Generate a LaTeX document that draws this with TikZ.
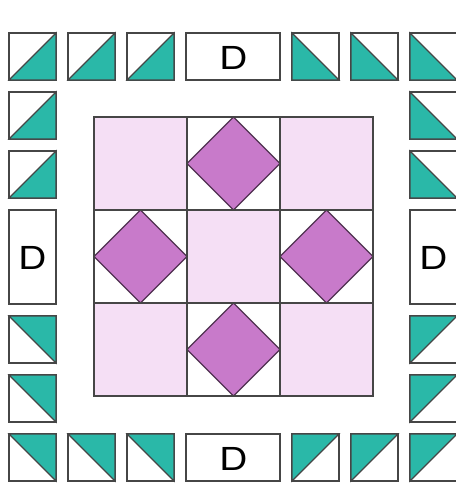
\documentclass[tikz,border=0pt]{standalone}
\usepackage{fontspec}
\usepackage{graphicx}
\setsansfont{TeX Gyre Heros}
\definecolor{quiltteal}{RGB}{42,184,168}
\definecolor{quiltpink}{RGB}{245,223,245}
\definecolor{quiltplum}{RGB}{200,122,202}
\definecolor{quiltline}{RGB}{70,70,70}

\begin{document}
\begin{tikzpicture}[x=0.02cm, y=-0.02cm,
  patch/.style={draw=quiltline, line width=0.7pt, fill=white},
  hst/.style={draw=quiltline, line width=0.7pt, fill=quiltteal},
  block/.style={fill=quiltpink},
  seam/.style={draw=quiltline, line width=0.7pt},
  gem/.style={draw=quiltplum!40!black, line width=0.7pt, fill=quiltplum},
  letter/.style={font=\sffamily\fontsize{18}{18}\selectfont}]
  \useasboundingbox (0,0) rectangle (456,487);
  % border squares, top row
  \draw[patch] (9,33) rectangle +(47,47);
  \draw[patch] (68,33) rectangle +(47,47);
  \draw[patch] (127,33) rectangle +(47,47);
  \draw[patch] (292,33) rectangle +(47,47);
  \draw[patch] (351,33) rectangle +(47,47);
  \draw[patch] (410,33) rectangle +(47,47);
  % left and right columns
  \draw[patch] (9,92) rectangle +(47,47);
  \draw[patch] (9,151) rectangle +(47,47);
  \draw[patch] (9,316) rectangle +(47,47);
  \draw[patch] (9,375) rectangle +(47,47);
  \draw[patch] (410,92) rectangle +(47,47);
  \draw[patch] (410,151) rectangle +(47,47);
  \draw[patch] (410,316) rectangle +(47,47);
  \draw[patch] (410,375) rectangle +(47,47);
  % bottom row
  \draw[patch] (9,434) rectangle +(47,47);
  \draw[patch] (68,434) rectangle +(47,47);
  \draw[patch] (127,434) rectangle +(47,47);
  \draw[patch] (292,434) rectangle +(47,47);
  \draw[patch] (351,434) rectangle +(47,47);
  \draw[patch] (410,434) rectangle +(47,47);

  % teal halves, upper left corner
  \draw[hst] (9,80) -- +(47,0) -- +(47,-47) -- cycle;
  \draw[hst] (68,80) -- +(47,0) -- +(47,-47) -- cycle;
  \draw[hst] (127,80) -- +(47,0) -- +(47,-47) -- cycle;
  \draw[hst] (9,139) -- +(47,0) -- +(47,-47) -- cycle;
  \draw[hst] (9,198) -- +(47,0) -- +(47,-47) -- cycle;
  % upper right corner
  \draw[hst] (292,33) -- +(0,47) -- +(47,47) -- cycle;
  \draw[hst] (351,33) -- +(0,47) -- +(47,47) -- cycle;
  \draw[hst] (410,33) -- +(0,47) -- +(47,47) -- cycle;
  \draw[hst] (410,92) -- +(0,47) -- +(47,47) -- cycle;
  \draw[hst] (410,151) -- +(0,47) -- +(47,47) -- cycle;
  % lower left corner
  \draw[hst] (9,316) -- +(47,0) -- +(47,47) -- cycle;
  \draw[hst] (9,375) -- +(47,0) -- +(47,47) -- cycle;
  \draw[hst] (9,434) -- +(47,0) -- +(47,47) -- cycle;
  \draw[hst] (68,434) -- +(47,0) -- +(47,47) -- cycle;
  \draw[hst] (127,434) -- +(47,0) -- +(47,47) -- cycle;
  % lower right corner
  \draw[hst] (410,316) -- +(47,0) -- +(0,47) -- cycle;
  \draw[hst] (410,375) -- +(47,0) -- +(0,47) -- cycle;
  \draw[hst] (410,434) -- +(47,0) -- +(0,47) -- cycle;
  \draw[hst] (351,434) -- +(47,0) -- +(0,47) -- cycle;
  \draw[hst] (292,434) -- +(47,0) -- +(0,47) -- cycle;

  % D rectangles
  \draw[patch] (186,33) rectangle (280,80);
  \draw[patch] (186,434) rectangle (280,481);
  \draw[patch] (9,210) rectangle (56,304);
  \draw[patch] (410,210) rectangle (457,304);
  \node[letter] (dtop) at (233.5,57.5) {\scalebox{1.25}[1]{D}};
  \node[letter] (dbottom) at (233.5,458.5) {\scalebox{1.25}[1]{D}};
  \node[letter] (dleft) at (32.5,257.5) {\scalebox{1.25}[1]{D}};
  \node[letter] (dright) at (433.5,257.5) {\scalebox{1.25}[1]{D}};

  % centre block
  \fill[white] (94,117) rectangle (373,396);
  \fill[block] (94,117) rectangle (187,210);
  \fill[block] (280,117) rectangle (373,210);
  \fill[block] (187,210) rectangle (280,303);
  \fill[block] (94,303) rectangle (187,396);
  \fill[block] (280,303) rectangle (373,396);
  \draw[gem] (233.5,117) -- (280,163.5) -- (233.5,210) -- (187,163.5) -- cycle;
  \draw[gem] (140.5,210) -- (187,256.5) -- (140.5,303) -- (94,256.5) -- cycle;
  \draw[gem] (326.5,210) -- (373,256.5) -- (326.5,303) -- (280,256.5) -- cycle;
  \draw[gem] (233.5,303) -- (280,349.5) -- (233.5,396) -- (187,349.5) -- cycle;
  \draw[seam] (94,117) rectangle (373,396);
  \draw[seam] (187,117) -- (187,396);
  \draw[seam] (280,117) -- (280,396);
  \draw[seam] (94,210) -- (373,210);
  \draw[seam] (94,303) -- (373,303);
\end{tikzpicture}
\end{document}
